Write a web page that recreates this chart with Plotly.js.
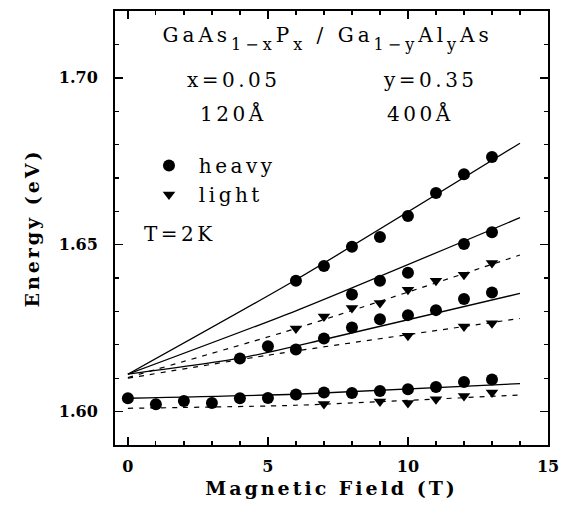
<!DOCTYPE html>
<html>
<head>
<meta charset="utf-8">
<script src="https://cdn.plot.ly/plotly-3.0.1.min.js"></script>
<style>
  html, body { margin: 0; padding: 0; background: #fff; }
  #chart { width: 570px; height: 514px; }
  .annotation-text { letter-spacing: 3.5px; }
  .annotation[data-index="0"] .annotation-text { letter-spacing: 4px; }
  .legendtext { letter-spacing: 3.5px; }
  .xtitle, .ytitle { letter-spacing: 3px; }
</style>
</head>
<body>
<div id="chart"></div>
<script>
// ---- data ----
// heavy-hole points (filled circles)
const heavyField = [0,1,2,3,4,5,6,7,8,9,10,11,12,13,
                    4,5,6,7,8,9,10,11,12,13,
                    8,9,10,12,13,
                    6,7,8,9,10,11,12,13];
const heavyEnergy = [1.6040,1.6022,1.6032,1.6026,1.6040,1.6041,1.6051,1.6057,1.6056,1.6062,1.6067,1.6074,1.6089,1.6096,
                     1.6159,1.6196,1.6186,1.6219,1.6252,1.6277,1.6289,1.6304,1.6337,1.6357,
                     1.6351,1.6392,1.6416,1.6502,1.6537,
                     1.6392,1.6436,1.6494,1.6523,1.6586,1.6655,1.6711,1.6763];
// light-hole points (down triangles)
const lightField = [6,7,8,9,10,11,12,13,
                    10,12,13,
                    7,9,10,11,12,13];
const lightEnergy = [1.6249,1.6285,1.6310,1.6325,1.6365,1.6392,1.6410,1.6445,
                     1.6227,1.6255,1.6265,
                     1.6023,1.6030,1.6026,1.6037,1.6047,1.6057];
// theory curves: solid = heavy, dashed = light
const heavyCurves = [
  {field: [0, 6, 14],    energy: [1.6112, 1.6395, 1.6804]},
  {field: [0, 6, 14],    energy: [1.6112, 1.6302, 1.6581]},
  {field: [0, 4, 7, 14], energy: [1.6112, 1.6160, 1.6216, 1.6354]},
  {field: [0, 6, 14],    energy: [1.6040, 1.6052, 1.6084]}
];
const lightCurves = [
  {field: [0, 6, 14], energy: [1.6102, 1.6249, 1.6469]},
  {field: [0, 5, 14], energy: [1.6100, 1.6169, 1.6279]},
  {field: [0, 6, 14], energy: [1.6010, 1.6019, 1.6050]}
];
const xTicks = [0, 5, 10, 15];
const yTicks = [1.60, 1.65, 1.70];

const serif = 'DejaVu Serif, Liberation Serif, serif';
const traces = [];
heavyCurves.forEach(c => traces.push({
  x: c.field, y: c.energy, mode: 'lines', showlegend: false, hoverinfo: 'skip',
  line: {color: '#000', width: 1.3, shape: 'spline', smoothing: 0.6}
}));
lightCurves.forEach(c => traces.push({
  x: c.field, y: c.energy, mode: 'lines', showlegend: false, hoverinfo: 'skip',
  line: {color: '#000', width: 1.2, dash: '5px,6px', shape: 'spline', smoothing: 0.6}
}));
traces.push({x: heavyField, y: heavyEnergy, mode: 'markers', name: ' heavy',
  marker: {symbol: 'circle', size: 12, color: '#000'}});
traces.push({x: lightField, y: lightEnergy, mode: 'markers', name: ' light',
  marker: {symbol: 'triangle-down', size: 11, color: '#000'}});

const annFont = {family: serif, size: 20, color: '#000'};
function ann(text, x, y) {
  return {text: text, xref: 'paper', yref: 'paper', x: x, y: y,
          xanchor: 'left', yanchor: 'middle', showarrow: false, font: annFont};
}
function sub(t) { return '<sub><span style="font-size:16px;baseline-shift:-4px">' + t + '</span></sub>'; }

const layout = {
  width: 570, height: 514,
  margin: {l: 115, r: 22, t: 11, b: 69},
  paper_bgcolor: '#fff', plot_bgcolor: '#fff',
  showlegend: true,
  legend: {x: 0.0785, y: 0.689, xanchor: 'left', yanchor: 'top',
           bgcolor: 'rgba(0,0,0,0)', font: {family: serif, size: 20, color: '#000'},
           itemwidth: 30, tracegroupgap: 0},
  xaxis: {
    range: [-0.46, 15], tickvals: xTicks, ticktext: xTicks.map(String),
    ticks: 'inside', ticklen: 8, tickwidth: 1.5, tickcolor: '#000',
    minor: {dtick: 1, tick0: 0, ticks: 'inside', ticklen: 4, tickwidth: 1.2, tickcolor: '#000'},
    showline: true, linewidth: 2, linecolor: '#000', mirror: 'ticks',
    showgrid: false, zeroline: false, ticklabelstandoff: 6,
    tickfont: {family: serif, size: 16, weight: 'bold', color: '#000'},
    title: {text: 'Magnetic Field (T)', standoff: 6,
            font: {family: serif, size: 19, weight: 'bold', color: '#000'}}
  },
  yaxis: {
    range: [1.59, 1.72], tickvals: yTicks, ticktext: yTicks.map(v => v.toFixed(2)),
    ticks: 'inside', ticklen: 8, tickwidth: 1.5, tickcolor: '#000',
    minor: {dtick: 0.01, tick0: 1.6, ticks: 'inside', ticklen: 4, tickwidth: 1.2, tickcolor: '#000'},
    showline: true, linewidth: 2, linecolor: '#000', mirror: 'ticks',
    showgrid: false, zeroline: false, ticklabelstandoff: 12,
    tickfont: {family: serif, size: 16, weight: 'bold', color: '#000'},
    title: {text: 'Energy (eV)', standoff: 14,
            font: {family: serif, size: 19, weight: 'bold', color: '#000'}}
  },
  annotations: [
    ann('GaAs' + sub('1\u2212x') + 'P' + sub('x') + ' / Ga' + sub('1\u2212y') + 'Al' + sub('y') + 'As', 0.1178, 0.9355),
    ann('x=0.05', 0.1617, 0.841),
    ann('y=0.35', 0.614, 0.841),
    ann('120Å', 0.1917, 0.7638),
    ann('400Å', 0.6236, 0.7638),
    ann('T=2K', 0.0624, 0.4873)
  ]
};

Plotly.newPlot('chart', traces, layout, {staticPlot: true, displayModeBar: false});
</script>
</body>
</html>
